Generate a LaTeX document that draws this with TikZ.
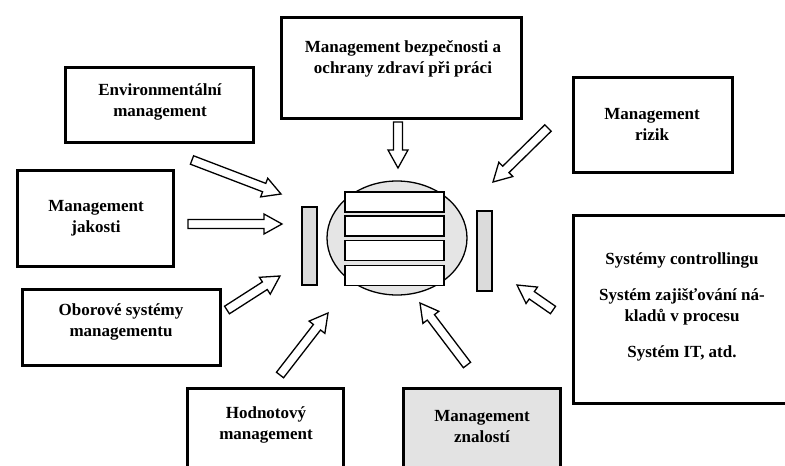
\documentclass[tikz,border=0pt]{standalone}
\usepackage{fontspec}
\setmainfont{Liberation Serif}
\usetikzlibrary{calc,shapes.geometric}

\definecolor{hubgray}{gray}{0.90}
\definecolor{bargray}{gray}{0.86}
\definecolor{panelgray}{gray}{0.89}

\tikzset{
  panel/.style={draw, line width=3pt, rectangle, inner sep=0pt},
  caption/.style={font=\bfseries\fontsize{17}{21}\selectfont, align=center, inner sep=0pt},
  layer/.style={draw, line width=1.4pt, fill=white, rectangle, inner sep=0pt,
                minimum width=99pt, minimum height=20pt},
  sidebar/.style={draw, line width=1.3pt, fill=bargray, rectangle, inner sep=0pt,
                  minimum width=15pt},
  arrowline/.style={draw, line width=1.3pt, fill=white, line join=miter},
}

% hollow block arrow from the tail point #1 to the tip #2
\newcommand\hollowarrow[2]{%
  \coordinate (hb) at ($(#2)!18pt!(#1)$);
  \draw[arrowline]
    ($(#1)!4.5pt!90:(#2)$) -- ($(hb)!4.5pt!90:(#2)$) -- ($(hb)!10pt!90:(#2)$)
    -- (#2)
    -- ($(hb)!10pt!-90:(#2)$) -- ($(hb)!4.5pt!-90:(#2)$) -- ($(#1)!4.5pt!-90:(#2)$)
    -- cycle;}

\begin{document}
\begin{tikzpicture}[x=1pt,y=-1pt]
\useasboundingbox (0,0) rectangle (785,466);
\clip (0,0) rectangle (785,466);

% surrounding systems
\node[panel, minimum width=240pt, minimum height=101pt] (safety) at (401,67.5) {};
\node[caption] at (403,59) {Management bezpečnosti a\\ochrany zdraví při práci};

\node[panel, minimum width=188pt, minimum height=75pt] (env) at (159,104.5) {};
\node[caption] at (160,102) {Environmentální\\management};

\node[panel, minimum width=159pt, minimum height=95pt] (risk) at (652.5,124.5) {};
\node[caption] at (652,124) {Management\\rizik};

\node[panel, minimum width=156pt, minimum height=96pt] (quality) at (95,218) {};
\node[caption] at (96,218) {Management\\jakosti};

\node[panel, minimum width=198pt, minimum height=76pt] (branch) at (121,327) {};
\node[caption] at (121,322) {Oborové systémy\\managementu};

\node[panel, minimum width=156pt, minimum height=102pt] (value) at (265,439) {};
\node[caption] at (266,425) {Hodnotový\\management};

\node[panel, fill=panelgray, minimum width=157pt, minimum height=102pt] (knowledge) at (481.5,439) {};
\node[caption] at (482,427) {Management\\znalostí};

\node[panel, minimum width=237pt, minimum height=188pt] (control) at (691.5,309) {};
\node[caption] at (682,307) {Systémy controllingu\\[15pt]Systém zajišťování ná-\\kladů v procesu\\[15pt]Systém IT, atd.};

% integrated core
\node[ellipse, draw, line width=1.3pt, fill=hubgray, minimum width=140pt, minimum height=114pt] (hub) at (397,238) {};
\node[layer] (l1) at (394.5,202) {};
\node[layer] (l2) at (394.5,226) {};
\node[layer] (l3) at (394.5,250.5) {};
\node[layer] (l4) at (394.5,275.5) {};
\node[sidebar, minimum height=78pt] (leftbar) at (309.5,246) {};
\node[sidebar, minimum height=80pt] (rightbar) at (484.5,251) {};

% arrow end points
\coordinate (safetyT) at (398,122);  \coordinate (safetyH) at (398,168);
\coordinate (envT) at (192,160);     \coordinate (envH) at (281,194);
\coordinate (qualT) at (188,224);    \coordinate (qualH) at (282,224);
\coordinate (branchT) at (227,310);  \coordinate (branchH) at (280,276);
\coordinate (valueT) at (280,375);   \coordinate (valueH) at (328,313);
\coordinate (knowT) at (467,365);    \coordinate (knowH) at (420,303);
\coordinate (riskT) at (548,128);    \coordinate (riskH) at (493,182);
\coordinate (ctrlT) at (553,310);    \coordinate (ctrlH) at (517,285);

\hollowarrow{safetyT}{safetyH}
\hollowarrow{envT}{envH}
\hollowarrow{qualT}{qualH}
\hollowarrow{branchT}{branchH}
\hollowarrow{valueT}{valueH}
\hollowarrow{knowT}{knowH}
\hollowarrow{riskT}{riskH}
\hollowarrow{ctrlT}{ctrlH}
\end{tikzpicture}
\end{document}
